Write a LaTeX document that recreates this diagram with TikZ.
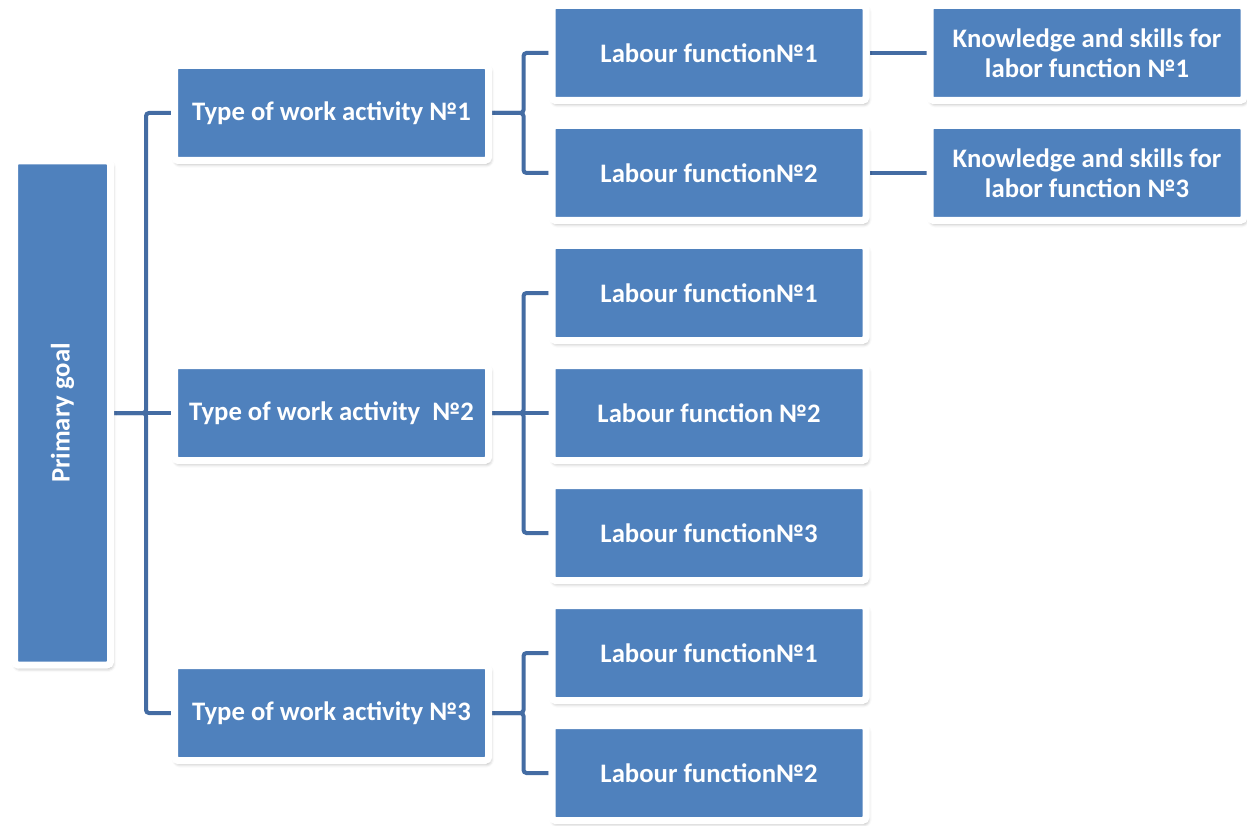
\documentclass[tikz,border=0pt]{standalone}
\usepackage{fontspec}
\usepackage{graphicx}
\setmainfont{Carlito}
\usetikzlibrary{backgrounds,shadows.blur}
\definecolor{boxblue}{RGB}{79,129,189}
\definecolor{linkblue}{RGB}{68,108,163}
\begin{document}
\begin{tikzpicture}[x=1pt, y=-1pt, every node/.style={draw=white, fill=boxblue,
					line width=7pt, rounded corners=3.5pt, text=white, align=center,
					font=\bfseries\fontsize{26.7}{30}\selectfont, inner sep=0pt,
					minimum width=314pt, minimum height=95pt,
					blur shadow={shadow xshift=1.5pt, shadow yshift=-3pt,
					shadow blur radius=4pt, shadow opacity=40}},
					link/.style={draw=linkblue, line width=4pt, rounded corners=3pt}]
		\useasboundingbox (0,0) rectangle (1247,826);

		\node[minimum width=96pt, minimum height=504pt] (G) at (62.5,413) {\rotatebox{90}{Primary goal}};

		\node (T1) at (331.5,113) {Type of work activity №1};
		\node (T2) at (331.5,413) {Type of work activity~ №2};
		\node (T3) at (331.5,713) {Type of work activity №3};

		\node (L11) at (709,53) {Labour function№1};
		\node (L12) at (709,173) {Labour function№2};
		\node (L21) at (709,293) {Labour function№1};
		\node (L22) at (709,413) {Labour function №2};
		\node (L23) at (709,533) {Labour function№3};
		\node (L31) at (709,653) {Labour function№1};
		\node (L32) at (709,773) {Labour function№2};

		\node (K1) at (1087,53) {Knowledge and skills for\\labor function №1};
		\node (K2) at (1087,173) {Knowledge and skills for\\labor function №3};

		\begin{scope}[on background layer]
			\draw[link] (G.east) -- ++(32,0) |- (T1.west);
			\draw[link] (G.east) -- (T2.west);
			\draw[link] (G.east) -- ++(32,0) |- (T3.west);

			\draw[link] (T1.east) -- ++(31.5,0) |- (L11.west);
			\draw[link] (T1.east) -- ++(31.5,0) |- (L12.west);
			\draw[link] (T2.east) -- ++(31.5,0) |- (L21.west);
			\draw[link] (T2.east) -- (L22.west);
			\draw[link] (T2.east) -- ++(31.5,0) |- (L23.west);
			\draw[link] (T3.east) -- ++(31.5,0) |- (L31.west);
			\draw[link] (T3.east) -- ++(31.5,0) |- (L32.west);

			\draw[link] (L11) -- (K1);
			\draw[link] (L12) -- (K2);
		\end{scope}
	\end{tikzpicture}
\end{document}
